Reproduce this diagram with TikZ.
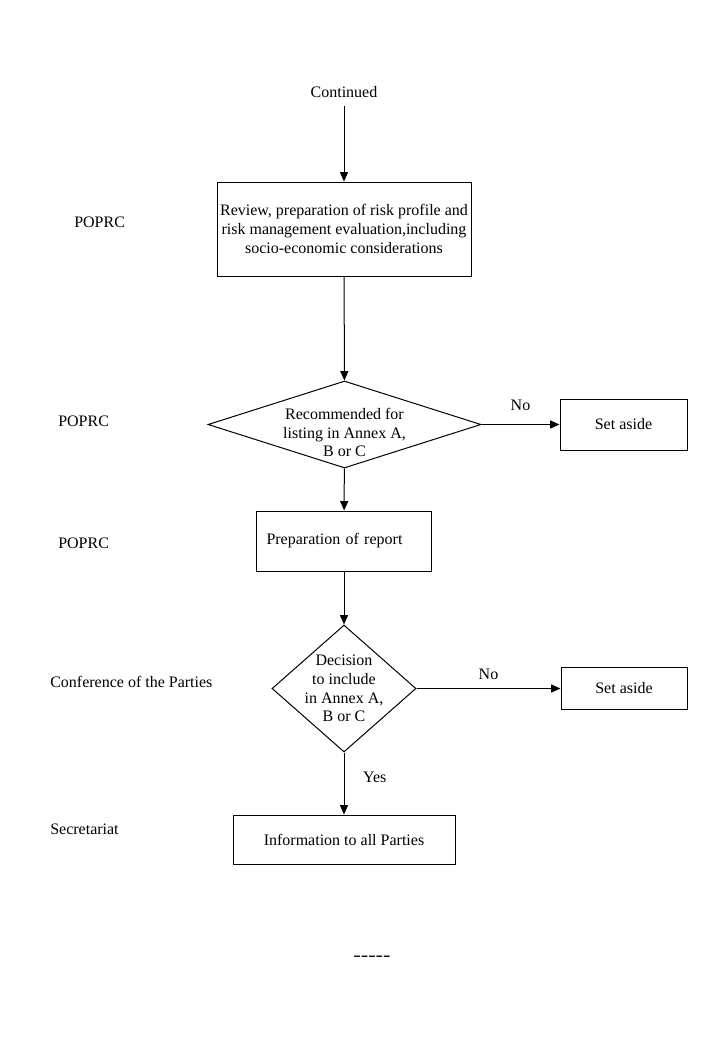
\documentclass[tikz,border=0pt,12pt]{standalone}
\usepackage{fontspec}
\setmainfont{Liberation Serif}
\usetikzlibrary{shapes.geometric,arrows.meta,positioning}

\begin{document}
\begin{tikzpicture}[x=0.75pt,y=-0.75pt,
    font=\fontsize{12}{14}\selectfont,
    box/.style={draw, line width=0.75pt, align=center, inner sep=0pt},
    decision/.style={draw, diamond, line width=0.75pt, inner sep=0pt},
    actor/.style={anchor=west, inner sep=0pt},
    flow/.style={-{Triangle[length=7pt,width=6pt]}, line width=0.75pt}]
    \useasboundingbox (0,0) rectangle (719,1038);

    % Start
    \node[inner sep=6pt] (cont) at (344,92) {Continued};

    % Review
    \node[box, minimum width=190.5pt, minimum height=70.5pt] (review) at (344,229)
        {Review, preparation of risk profile and\\risk management evaluation,including\\socio-economic considerations};
    \node[actor] (role1) at (74,222) {POPRC};

    % Recommendation
    \node[decision, minimum width=204.75pt, minimum height=65.25pt] (rec) at (344.5,424.5) {};
    \node[align=center, inner sep=0pt] (rec-txt) at ([yshift=-6pt]rec.center)
        {Recommended for\\listing in Annex A,\\B or C};
    \node[box, minimum width=95.25pt, minimum height=38.25pt] (aside1) at (623.5,424.5) {Set aside};
    \node[actor] (role2) at (58,421) {POPRC};

    % Report
    \node[box, minimum width=131.25pt, minimum height=45pt, inner xsep=7.5pt,
        text width=116.25pt, align=left] (report) at (344,541) {Preparation of report};
    \node[actor] (role3) at (58,543) {POPRC};

    % Decision
    \node[decision, minimum width=108pt, minimum height=95.25pt] (incl) at (344,688.5) {};
    \node[align=center, inner sep=0pt] (incl-txt) at (incl.center)
        {Decision\\to include\\in Annex A,\\B or C};
    \node[box, minimum width=94.5pt, minimum height=31.5pt] (aside2) at (624,688.5) {Set aside};
    \node[actor] (role4) at (50,682) {Conference of the Parties};

    % Information
    \node[box, minimum width=166.5pt, minimum height=36.75pt] (info) at (344,839.5) {Information to all Parties};
    \node[actor] (role5) at (50,829) {Secretariat};

    \node (dashes) at (372,958) {\scalebox{1.4}[1]{\bfseries -{}-{}-{}-{}-}};

    % Connectors
    \draw[flow] (cont) -- (review);
    \draw[flow] (review) -- (rec);
    \draw[flow] (rec) -- node[above=6pt] {No} (aside1);
    \draw[flow] (rec) -- (report);
    \draw[flow] (report) -- (incl);
    \draw[flow] (incl) -- node[above=2pt] {No} (aside2);
    \draw[flow] (incl) -- node[pos=0.4, right=10pt] {Yes} (info);
\end{tikzpicture}
\end{document}
